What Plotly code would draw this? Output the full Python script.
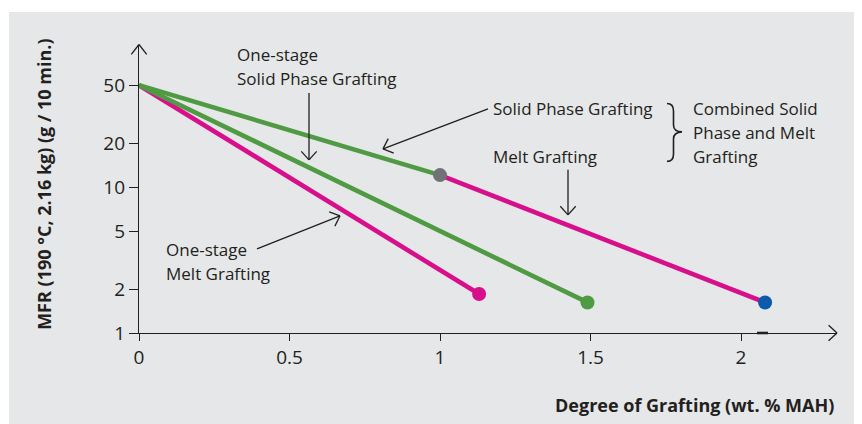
import math
import plotly.graph_objects as go

# ---- data ----
one_stage_melt_x = [0, 1.13]
one_stage_melt_y = [50, 1.85]
one_stage_solid_x = [0, 1.49]
one_stage_solid_y = [50, 1.62]
combined_solid_x = [0, 1.0]
combined_solid_y = [50, 12.1]
combined_melt_x = [1.0, 2.08]
combined_melt_y = [12.1, 1.62]
y_ticks = [1, 2, 5, 10, 20, 50]
y_ticktext = ["1", "2", "5", "10", "20", "50"]
x_ticks = [0, 0.5, 1, 1.5, 2]
x_ticktext = ["0", "0.5", "1", "1.5", "2"]

MAGENTA = "#d80f8b"
GREEN = "#4f9a43"
GRAY_DOT = "#717275"
BLUE_DOT = "#0a5bab"
INK = "#231f20"
BG = "#e6e7e8"
FONT = "Open Sans"

OFF = 8  # page body margin
SW, SH = 862, 424  # screen size
W, H = SW - OFF, SH - OFF
# plot area in screen pixels
L, R, T, B = 139, 836, 45, 333.3
PW, PH = R - L, B - T


def px(x):
    return (x - L) / PW


def py(y):
    return (B - y) / PH


fig = go.Figure()

line_w = 4.6
fig.add_trace(go.Scatter(x=one_stage_melt_x, y=one_stage_melt_y, mode="lines",
                         line=dict(color=MAGENTA, width=line_w), hoverinfo="skip"))
fig.add_trace(go.Scatter(x=one_stage_solid_x, y=one_stage_solid_y, mode="lines",
                         line=dict(color=GREEN, width=line_w), hoverinfo="skip"))
fig.add_trace(go.Scatter(x=combined_solid_x, y=combined_solid_y, mode="lines",
                         line=dict(color=GREEN, width=line_w), hoverinfo="skip"))
fig.add_trace(go.Scatter(x=combined_melt_x, y=combined_melt_y, mode="lines",
                         line=dict(color=MAGENTA, width=line_w), hoverinfo="skip"))
# end markers
fig.add_trace(go.Scatter(
    x=[one_stage_melt_x[-1], one_stage_solid_x[-1], combined_solid_x[-1], combined_melt_x[-1]],
    y=[one_stage_melt_y[-1], one_stage_solid_y[-1], combined_solid_y[-1], combined_melt_y[-1]],
    mode="markers",
    marker=dict(size=14, color=[MAGENTA, GREEN, GRAY_DOT, BLUE_DOT], line=dict(width=0)),
    hoverinfo="skip"))

shapes = []
# gray panel
shapes.append(dict(type="rect", xref="paper", yref="paper",
                   x0=px(9), x1=px(SW + 5), y0=py(SH + 5), y1=py(12),
                   fillcolor=BG, line=dict(width=0), layer="below"))


def seg(x0, y0, x1, y1, w=1.3, color=INK):
    shapes.append(dict(type="line", xref="paper", yref="paper",
                       x0=px(x0), y0=py(y0), x1=px(x1), y1=py(y1),
                       line=dict(color=color, width=w)))


def arrow(x0, y0, x1, y1, arm=11.5, ang=42, shaft=True, w=1.3):
    if shaft:
        seg(x0, y0, x1, y1, w)
    a = math.atan2(y0 - y1, x0 - x1)
    for s in (-1, 1):
        aa = a + s * math.radians(ang)
        seg(x1, y1, x1 + arm * math.cos(aa), y1 + arm * math.sin(aa), w)


# axis arrow heads
arrow(139, 60, 139, 44.5, arm=12.5, ang=38, shaft=False, w=1.3)
arrow(820, 333.3, 837, 333.3, arm=11.5, ang=43, shaft=False, w=1.3)
# small dash on x axis
seg(757, 333.3, 768, 333.3, w=2.6)

# annotation arrows
arrow(309, 93, 309, 160)
arrow(488, 109, 383, 149)
arrow(568, 170, 568, 215)
arrow(257, 249, 340, 216)

# brace
pts = [(667, 103.5), (673.5, 103.5), (673.5, 111), (673.5, 125), (673.5, 131.5), (682, 132),
       (673.5, 132.5), (673.5, 139), (673.5, 154), (673.5, 161.5), (667, 161.5)]


def P(p):
    return f"{px(p[0]):.5f},{py(p[1]):.5f}"


path = (f"M {P(pts[0])} Q {P(pts[1])} {P(pts[2])} L {P(pts[3])} Q {P(pts[4])} {P(pts[5])} "
        f"Q {P(pts[6])} {P(pts[7])} L {P(pts[8])} Q {P(pts[9])} {P(pts[10])}")
shapes.append(dict(type="path", xref="paper", yref="paper", path=path,
                   line=dict(color=INK, width=1.6)))

annotations = []


def label(text, x, y, size=17, anchor="left", **kw):
    annotations.append(dict(text=text, xref="paper", yref="paper", x=px(x), y=py(y),
                            xanchor=anchor, yanchor="middle", showarrow=False,
                            font=dict(family=FONT, size=size, color=INK, **kw)))


label("One-stage", 235, 55)
label("Solid Phase Grafting", 235, 79)
label("Solid Phase Grafting", 491, 109)
label("Melt Grafting", 491, 157)
label("Combined Solid", 691, 109)
label("Phase and Melt", 691, 133)
label("Grafting", 691, 157)
label("One-stage", 164, 250)
label("Melt Grafting", 164, 274)

# axis titles
label("Degree of Grafting (wt. % MAH)", 836, 405, size=18, anchor="right", weight="bold")
annotations.append(dict(text="MFR (190 °C, 2.16 kg) (g / 10 min.)", xref="paper", yref="paper",
                        x=px(44), y=py(185), xanchor="center", yanchor="middle",
                        textangle=-90, showarrow=False,
                        font=dict(family=FONT, size=18, color=INK, weight="bold")))

fig.update_layout(
    width=W, height=H,
    margin=dict(l=L - OFF, r=SW - R, t=T - OFF, b=SH - B, pad=0),
    paper_bgcolor="white", plot_bgcolor="rgba(0,0,0,0)",
    showlegend=False,
    shapes=shapes, annotations=annotations,
    xaxis=dict(range=[0, (R - L) / 301.0], showgrid=False, zeroline=False,
               showline=True, linecolor=INK, linewidth=1.3,
               ticks="outside", ticklen=7, tickwidth=1.3, tickcolor=INK,
               tickvals=x_ticks, ticktext=x_ticktext,
               tickfont=dict(family=FONT, size=19, color=INK), fixedrange=True),
    yaxis=dict(type="log", range=[0, (B - T) / 146.0], showgrid=False, zeroline=False,
               showline=True, linecolor=INK, linewidth=1.3,
               ticks="outside", ticklen=9, tickwidth=1.3, tickcolor=INK,
               tickvals=y_ticks, ticktext=y_ticktext,
               tickfont=dict(family=FONT, size=19, color=INK), fixedrange=True),
)

fig.write_html("out.html", config={"displayModeBar": False})
